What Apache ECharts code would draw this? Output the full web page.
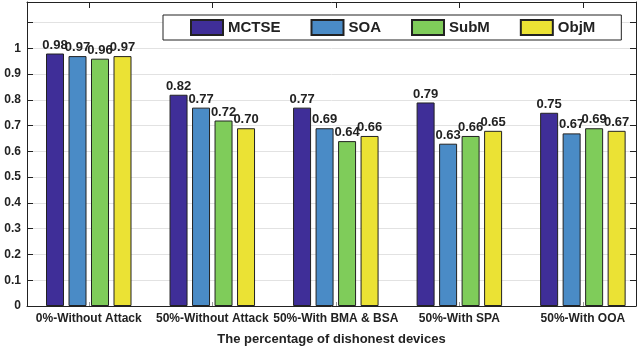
<!DOCTYPE html>
<html>
<head>
<meta charset="utf-8">
<script src="https://cdn.jsdelivr.net/npm/echarts@6/dist/echarts.min.js"></script>
<style>
  html, body { margin: 0; padding: 0; background: #fff; }
  #main { width: 639px; height: 351px; }
</style>
</head>
<body>
<div id="main"></div>
<script>
// categories on the x axis
var categories = ['0%-Without Attack', '50%-Without Attack', '50%-With BMA & BSA', '50%-With SPA', '50%-With OOA'];
var seriesNames = ['MCTSE', 'SOA', 'SubM', 'ObjM'];

// bar heights as drawn
var mctse = [0.98, 0.82, 0.77, 0.79, 0.75];
var soa   = [0.97, 0.77, 0.69, 0.63, 0.67];
var subm  = [0.96, 0.72, 0.64, 0.66, 0.69];
var objm  = [0.97, 0.69, 0.66, 0.68, 0.68];

// labels printed above the bars
var mctseLabels = ['0.98', '0.82', '0.77', '0.79', '0.75'];
var soaLabels   = ['0.97', '0.77', '0.69', '0.63', '0.67'];
var submLabels  = ['0.96', '0.72', '0.64', '0.66', '0.69'];
var objmLabels  = ['0.97', '0.70', '0.66', '0.65', '0.67'];

var colors = ['#3f2e98', '#4a8bc6', '#7fcc5a', '#ebe234'];
var values = [mctse, soa, subm, objm];
var labels = [mctseLabels, soaLabels, submLabels, objmLabels];

var positions = categories.map(function (c, i) { return i + 1; });
var font = 'Liberation Sans, Arial, sans-serif';

var myChart = echarts.init(document.getElementById('main'));

var series = seriesNames.map(function (name, s) {
    return {
        name: name,
        type: 'bar',
        barWidth: 18,
        barGap: '25%',
        data: values[s].map(function (v, i) { return [positions[i], v]; }),
        itemStyle: { color: colors[s], borderColor: '#222', borderWidth: 1 },
        label: {
            show: true,
            position: 'top',
            distance: 2,
            fontFamily: font,
            fontWeight: 'bold',
            fontSize: 13,
            color: '#222',
            formatter: function (p) { return labels[s][p.dataIndex]; }
        }
    };
});

var option = {
    animation: false,
    backgroundColor: '#fff',
    grid: { left: 27, right: 3, top: 2, bottom: 45 },
    legend: {
        data: seriesNames,
        left: 163,
        top: 15,
        orient: 'horizontal',
        backgroundColor: '#fff',
        borderColor: '#222',
        borderWidth: 1,
        padding: [4, 26, 4, 27],
        itemGap: 30,
        itemWidth: 32,
        itemHeight: 15,
        icon: 'rect',
        textStyle: { fontFamily: font, fontWeight: 'bold', fontSize: 15, color: '#222' }
    },
    xAxis: [
        {
            type: 'value',
            position: 'bottom',
            min: 0.5,
            max: 5.43,
            name: 'The percentage of dishonest devices',
            nameLocation: 'middle',
            nameGap: 27,
            nameTextStyle: { fontFamily: font, fontWeight: 'bold', fontSize: 13, color: '#222' },
            axisLine: { show: true, onZero: false, lineStyle: { color: '#222', width: 1 } },
            axisTick: { show: true, inside: true, length: 4, customValues: positions, lineStyle: { color: '#999' } },
            axisLabel: {
                customValues: positions,
                margin: 7,
                fontFamily: font, fontWeight: 'bold', fontSize: 12, color: '#222',
                formatter: function (v) { return categories[Math.round(v) - 1] || ''; }
            },
            splitLine: { show: false }
        },
        {
            type: 'value',
            position: 'top',
            min: 0.5,
            max: 5.43,
            axisLine: { show: true, onZero: false, lineStyle: { color: '#222', width: 1 } },
            axisTick: { show: true, inside: true, length: 6, customValues: positions, lineStyle: { color: '#222' } },
            axisLabel: { show: false },
            splitLine: { show: false }
        }
    ],
    yAxis: [
        {
            type: 'value',
            min: 0,
            max: 1.18,
            interval: 0.1,
            axisLine: { show: true, lineStyle: { color: '#222', width: 1 } },
            axisTick: { show: true, inside: true, length: 6, lineStyle: { color: '#222' } },
            axisLabel: {
                margin: 6,
                fontFamily: font, fontWeight: 'bold', fontSize: 12, color: '#222',
                formatter: function (v) { return v > 1.05 ? '' : String(Math.round(v * 10) / 10); }
            },
            splitLine: { show: true, lineStyle: { color: '#e2e2e2', width: 1 } }
        },
        {
            type: 'value',
            position: 'right',
            min: 0,
            max: 1.18,
            interval: 0.1,
            axisLine: { show: true, lineStyle: { color: '#222', width: 1 } },
            axisTick: { show: true, inside: true, length: 6, lineStyle: { color: '#222' } },
            axisLabel: { show: false },
            splitLine: { show: false }
        }
    ],
    series: series
};

myChart.setOption(option);
</script>
</body>
</html>
